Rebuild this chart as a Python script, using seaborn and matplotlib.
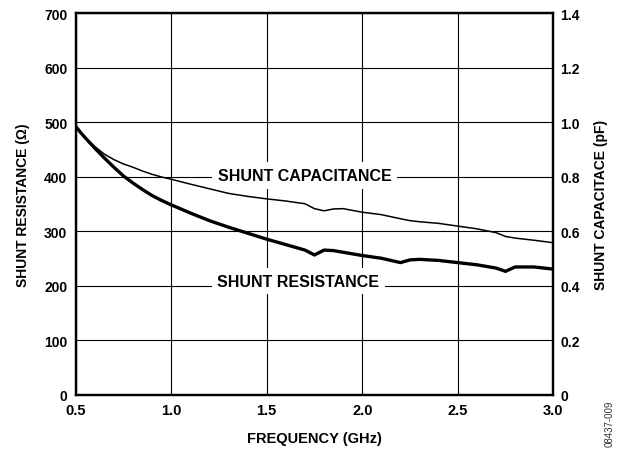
import matplotlib
matplotlib.use("Agg")
import matplotlib.pyplot as plt
import seaborn as sns
import pandas as pd

freq_ghz = [0.5, 0.525, 0.55, 0.6, 0.65, 0.7, 0.75, 0.8, 0.85, 0.9, 0.95, 1.0, 1.1, 1.2, 1.3,
            1.4, 1.5, 1.6, 1.7, 1.75, 1.8, 1.85, 1.9, 2.0, 2.1, 2.2, 2.25, 2.3, 2.4, 2.5,
            2.6, 2.7, 2.75, 2.8, 2.9, 3.0]
shunt_resistance = [492, 481, 471, 452, 434, 417, 401, 388, 376, 365, 356, 348, 333, 319, 307,
                    296, 285, 275, 265, 256, 265, 264, 261, 255, 250, 242, 247, 248, 246, 242,
                    238, 232, 226, 234, 234, 230]
shunt_capacitance = [0.984, 0.962, 0.942, 0.91, 0.882, 0.862, 0.846, 0.834, 0.82, 0.808, 0.798,
                     0.79, 0.772, 0.755, 0.738, 0.727, 0.718, 0.71, 0.70, 0.682, 0.674, 0.681,
                     0.682, 0.669, 0.66, 0.645, 0.638, 0.634, 0.628, 0.618, 0.608, 0.594,
                     0.58, 0.574, 0.566, 0.557]

x_ticks = [0.5, 1.0, 1.5, 2.0, 2.5, 3.0]
x_labels = ["0.5", "1.0", "1.5", "2.0", "2.5", "3.0"]
left_ticks = [0, 100, 200, 300, 400, 500, 600, 700]
right_ticks = [0, 0.2, 0.4, 0.6, 0.8, 1.0, 1.2, 1.4]
right_labels = ["0", "0.2", "0.4", "0.6", "0.8", "1.0", "1.2", "1.4"]

sns.set_theme(style="white")
plt.rcParams["font.family"] = ["Liberation Sans", "DejaVu Sans"]
plt.rcParams["font.weight"] = "bold"

df = pd.DataFrame({"freq": freq_ghz, "res": shunt_resistance, "cap": shunt_capacitance})

fig = plt.figure(figsize=(6.21, 4.52), dpi=100)
ax = fig.add_axes([0.1219, 0.125, 0.7691, 0.844])
ax2 = ax.twinx()

sns.lineplot(data=df, x="freq", y="res", ax=ax, color="black", linewidth=2.4, zorder=3)
sns.lineplot(data=df, x="freq", y="cap", ax=ax2, color="black", linewidth=1.1)

ax.set_xlim(0.5, 3.0)
ax.set_ylim(0, 700)
ax2.set_ylim(0, 1.4)

ax.set_xticks(x_ticks)
ax.set_xticklabels(x_labels)
ax.set_yticks(left_ticks)
ax.set_yticklabels([str(v) for v in left_ticks])
ax2.set_yticks(right_ticks)
ax2.set_yticklabels(right_labels)

ax.grid(True, color="black", linewidth=0.8)
ax.set_axisbelow(True)
ax2.grid(False)

for a in (ax, ax2):
    for s in a.spines.values():
        s.set_color("black")
        s.set_linewidth(1.6)

ax.tick_params(axis="x", length=0, pad=6, labelsize=10.5, colors="black")
ax.tick_params(axis="y", length=0, pad=6, labelsize=10, colors="black")
ax2.tick_params(axis="y", length=0, pad=5, labelsize=10, colors="black")
for lab in ax.get_xticklabels() + ax.get_yticklabels() + ax2.get_yticklabels():
    lab.set_fontweight("bold")

ax.set_xlabel("FREQUENCY (GHz)", fontsize=10.5, fontweight="bold", labelpad=10, color="black")
ax.set_ylabel("SHUNT RESISTANCE (Ω)", fontsize=10, fontweight="bold", labelpad=10, color="black")
ax2.set_ylabel("SHUNT CAPACITACE (pF)", fontsize=10, fontweight="bold", labelpad=10, color="black")

bbox = dict(facecolor="white", edgecolor="none", pad=4)
ax.text(1.70, 402, "SHUNT CAPACITANCE", fontsize=11.5, fontweight="bold", ha="center",
        va="center", bbox=bbox, zorder=1.5, color="black")
ax.text(1.665, 208, "SHUNT RESISTANCE", fontsize=11.5, fontweight="bold", ha="center",
        va="center", bbox=bbox, zorder=1.5, color="black")

fig.text(0.982, 0.062, "08437-009", rotation=90, fontsize=7, fontweight="normal",
         color="#333333", ha="center", va="center")

fig.savefig("out.png", dpi=100)
